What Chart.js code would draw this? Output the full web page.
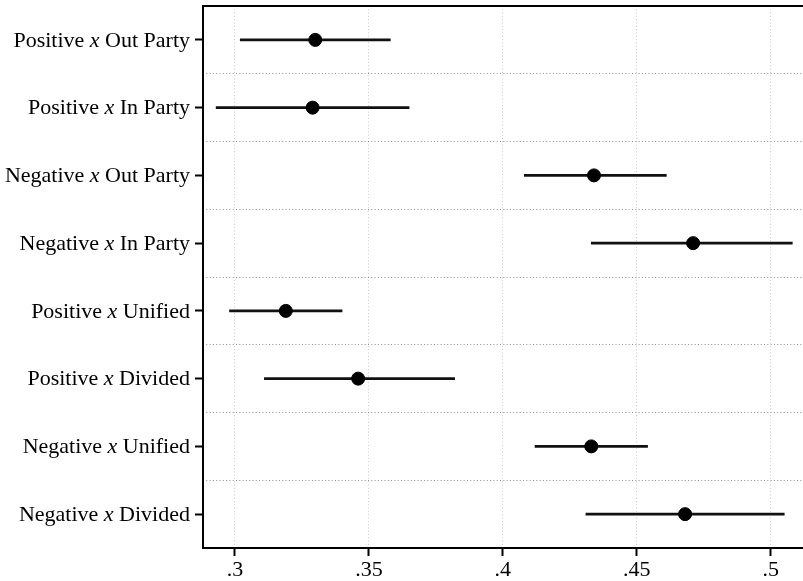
<!DOCTYPE html>
<html>
<head>
<meta charset="utf-8">
<script src="https://cdn.jsdelivr.net/npm/chart.js@4/dist/chart.umd.min.js"></script>
<style>
  html, body { margin: 0; padding: 0; background: #fff; }
  #wrap { width: 803px; height: 581px; }
</style>
</head>
<body>
<div id="wrap"><canvas id="dotChart"></canvas></div>
<script>
// categories top to bottom
const categories = [
  "Positive x Out Party",
  "Positive x In Party",
  "Negative x Out Party",
  "Negative x In Party",
  "Positive x Unified",
  "Positive x Divided",
  "Negative x Unified",
  "Negative x Divided"
];
const estimates = [0.330, 0.329, 0.434, 0.471, 0.319, 0.346, 0.433, 0.468];
const lowerCI = [0.302, 0.293, 0.408, 0.433, 0.298, 0.311, 0.412, 0.431];
const upperCI = [0.358, 0.365, 0.461, 0.508, 0.340, 0.382, 0.454, 0.505];
const xTickValues = [0.3, 0.35, 0.4, 0.45, 0.5];
const xTickLabels = [".3", ".35", ".4", ".45", ".5"];

const serif = "'Liberation Serif', 'Times New Roman', serif";
const fontSize = 22;

// top frame line + category labels with italic "x"
const framePlugin = {
  id: "frame",
  afterDraw(chart) {
    const ctx = chart.ctx;
    const area = chart.chartArea;
    ctx.save();
    ctx.strokeStyle = "#000";
    ctx.lineWidth = 2;
    ctx.beginPath();
    ctx.moveTo(area.left, area.top);
    ctx.lineTo(area.right, area.top);
    ctx.stroke();

    const yScale = chart.scales.y;
    ctx.fillStyle = "#000";
    ctx.textBaseline = "middle";
    ctx.textAlign = "left";
    const normal = fontSize + "px " + serif;
    const italic = "italic " + fontSize + "px " + serif;
    categories.forEach((label, i) => {
      const y = yScale.getPixelForValue(i) + 1;
      const parts = label.split(" x ");
      const a = parts[0] + " ";
      const b = " " + parts[1];
      ctx.font = normal;
      const wa = ctx.measureText(a).width;
      const wb = ctx.measureText(b).width;
      ctx.font = italic;
      const wx = ctx.measureText("x").width;
      let x = area.left - 13 - (wa + wx + wb);
      ctx.font = normal;
      ctx.fillText(a, x, y);
      x += wa;
      ctx.font = italic;
      ctx.fillText("x", x, y);
      x += wx;
      ctx.font = normal;
      ctx.fillText(b, x, y);
    });
    ctx.restore();
  }
};

const ctx = document.getElementById("dotChart").getContext("2d");
new Chart(ctx, {
  type: "bar",
  data: {
    labels: categories,
    datasets: [
      {
        type: "line",
        label: "estimate",
        data: estimates,
        indexAxis: "y",
        showLine: false,
        pointRadius: 6.5,
        pointHoverRadius: 6.5,
        pointBackgroundColor: "#000",
        pointBorderColor: "#000",
        order: 0
      },
      {
        label: "95% CI",
        data: lowerCI.map((lo, i) => [lo, upperCI[i]]),
        backgroundColor: "#111",
        barThickness: 2,
        order: 1
      }
    ]
  },
  options: {
    indexAxis: "y",
    responsive: true,
    maintainAspectRatio: false,
    animation: false,
    layout: { autoPadding: false, padding: { top: 6, right: 0, bottom: 0, left: 0 } },
    plugins: {
      legend: { display: false },
      tooltip: { enabled: false }
    },
    scales: {
      x: {
        type: "linear",
        min: 0.2881,
        max: 0.512,
        afterBuildTicks: (axis) => {
          axis.ticks = xTickValues.map((v) => ({ value: v }));
        },
        afterFit: (axis) => {
          axis.height = 33;
          axis.paddingLeft = 0;
          axis.paddingRight = 0;
        },
        grid: {
          color: "#cccccc",
          lineWidth: 1,
          tickColor: "#000",
          tickLength: 8,
          tickWidth: 2
        },
        border: { display: true, color: "#000", width: 2, dash: [1, 2.3] },
        ticks: {
          color: "#000",
          padding: 1,
          font: { family: serif, size: fontSize },
          callback: (value, index) => xTickLabels[index]
        }
      },
      y: {
        type: "category",
        offset: true,
        afterFit: (axis) => { axis.width = 203; },
        grid: {
          offset: false,
          drawOnChartArea: false,
          tickColor: "#000",
          tickLength: 8,
          tickWidth: 2
        },
        border: { display: true, color: "#000", width: 2 },
        ticks: { display: false }
      },
      y2: {
        type: "category",
        position: "right",
        offset: true,
        afterFit: (axis) => {
          axis.width = 0;
          axis.paddingTop = 0;
          axis.paddingBottom = 0;
        },
        grid: {
          offset: true,
          drawTicks: false,
          color: (c) => (c.index === 0 || c.index === categories.length ? "rgba(0,0,0,0)" : "#8f8f8f"),
          lineWidth: 1
        },
        border: { display: false, dash: [1, 2.3] },
        ticks: { display: false }
      }
    }
  },
  plugins: [framePlugin]
});
</script>
</body>
</html>
